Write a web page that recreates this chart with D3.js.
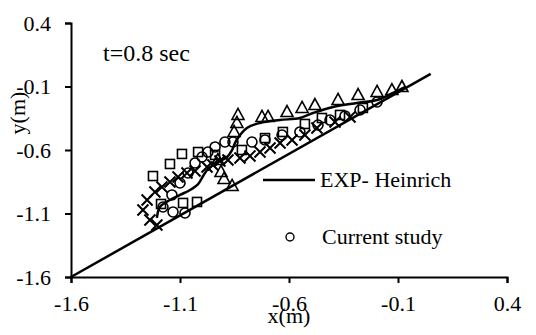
<!DOCTYPE html>
<html>
<head>
<meta charset="utf-8">
<script src="https://cdn.jsdelivr.net/npm/d3@7"></script>
<style>
  body { margin: 0; background: #fff; }
  svg text { font-family: "Liberation Serif", "Times New Roman", serif; fill: #000; }
  .axis text { font-size: 22px; }
  .axis path, .axis line { stroke: #000; stroke-width: 2px; }
</style>
</head>
<body>
<svg id="chart" width="536" height="335"></svg>
<script>
// tick values
let xTicks = [-1.6, -1.1, -0.6, -0.1, 0.4]
let yTicks = [-1.6, -1.1, -0.6, -0.1, 0.4]

// bed line
let bedX = [-1.6, 0.05]
let bedY = [-1.6, 0.0]

// EXP- Heinrich free surface
let expX = [-1.206, -1.192, -1.146, -1.100, -1.054, -1.017, -0.994, -0.972, -0.935, -0.884, -0.861, -0.843, -0.793, -0.733, -0.641, -0.550, -0.490, -0.398, -0.288, -0.196, -0.123, -0.068]
let expY = [-1.135, -1.049, -0.994, -0.954, -0.915, -0.868, -0.805, -0.750, -0.702, -0.655, -0.600, -0.529, -0.427, -0.387, -0.364, -0.348, -0.309, -0.261, -0.230, -0.206, -0.151, -0.104]

// current study (circles)
let circX = [-1.178, -1.132, -1.077, -1.137, -1.100, -1.063, -1.031, -0.999, -0.972, -0.939, -0.894, -0.857, -0.770, -0.710, -0.632, -0.550, -0.467, -0.412, -0.343, -0.274, -0.196]
let circY = [-1.049, -1.088, -1.096, -0.954, -0.860, -0.781, -0.702, -0.655, -0.616, -0.576, -0.537, -0.537, -0.537, -0.521, -0.482, -0.458, -0.403, -0.364, -0.332, -0.285, -0.222]

// other runs (triangles, squares, crosses)
let triX = [-0.834, -0.839, -0.852, -0.724, -0.696, -0.609, -0.540, -0.481, -0.375, -0.283, -0.196, -0.128, -0.082, -0.926, -0.912, -0.898, -0.861]
let triY = [-0.324, -0.387, -0.458, -0.340, -0.340, -0.301, -0.269, -0.246, -0.206, -0.167, -0.143, -0.128, -0.104, -0.679, -0.773, -0.828, -0.883]

let sqX = [-1.224, -1.146, -1.091, -1.017, -0.939, -0.816, -0.710, -0.628, -0.527, -0.449, -0.366, -0.261, -1.086, -1.022, -1.187]
let sqY = [-0.805, -0.710, -0.631, -0.616, -0.639, -0.600, -0.506, -0.458, -0.395, -0.348, -0.324, -0.269, -1.017, -1.009, -1.025]

let crossX = [-1.270, -1.238, -1.206, -1.251, -1.215, -1.183, -1.146, -1.109, -1.068, -1.031, -0.976, -0.949, -0.917, -0.880, -0.825, -0.779, -0.733, -0.687, -0.641, -0.586, -0.527, -0.472, -0.389, -0.320]
let crossY = [-1.072, -1.151, -1.191, -0.994, -0.931, -0.891, -0.852, -0.813, -0.781, -0.765, -0.734, -0.718, -0.687, -0.679, -0.663, -0.647, -0.616, -0.584, -0.545, -0.521, -0.482, -0.427, -0.380, -0.340]

let svg = d3.select("#chart")

let xScale = d3.scaleLinear().domain([-1.6, 0.4]).range([71, 507])
let yScale = d3.scaleLinear().domain([-1.6, 0.4]).range([277, 23])

let fmt = d => d.toFixed(1)

// axes
svg.append("g")
    .attr("class", "axis")
    .attr("transform", "translate(0," + yScale(-1.6) + ")")
    .call(d3.axisBottom(xScale).tickValues(xTicks).tickFormat(fmt).tickSizeOuter(0).tickSize(6).tickPadding(12))

svg.append("g")
    .attr("class", "axis")
    .attr("transform", "translate(" + xScale(-1.6) + ",0)")
    .call(d3.axisLeft(yScale).tickValues(yTicks).tickFormat(fmt).tickSizeOuter(0).tickSize(6).tickPadding(14))

svg.selectAll(".axis text").style("font-family", "'Liberation Serif', serif")

// axis titles
svg.append("text")
    .attr("x", xScale(-0.6))
    .attr("y", 323)
    .attr("text-anchor", "middle")
    .style("font-size", "22px")
    .text("x(m)")

svg.append("text")
    .attr("transform", "translate(25," + 113 + ") rotate(-90)")
    .attr("text-anchor", "middle")
    .style("font-size", "22px")
    .text("y(m)")

svg.append("text")
    .attr("x", 103)
    .attr("y", 61)
    .style("font-size", "24px")
    .text("t=0.8 sec")

let line = d3.line().x(d => xScale(d[0])).y(d => yScale(d[1]))

// bed line
svg.append("path")
    .datum(d3.zip(bedX, bedY))
    .attr("d", line)
    .attr("fill", "none")
    .attr("stroke", "#000")
    .attr("stroke-width", 2.5)

// markers
let marks = svg.append("g").attr("fill", "none").attr("stroke", "#000").attr("stroke-width", 1.6)

marks.selectAll(".tri")
    .data(d3.zip(triX, triY))
    .join("path")
    .attr("class", "tri")
    .attr("transform", d => `translate(${xScale(d[0])},${yScale(d[1])})`)
    .attr("d", "M0,-6.5L6,4.5L-6,4.5Z")

marks.selectAll(".sq")
    .data(d3.zip(sqX, sqY))
    .join("rect")
    .attr("class", "sq")
    .attr("x", d => xScale(d[0]) - 4.5)
    .attr("y", d => yScale(d[1]) - 4.5)
    .attr("width", 9)
    .attr("height", 9)

marks.selectAll(".cross")
    .data(d3.zip(crossX, crossY))
    .join("path")
    .attr("class", "cross")
    .attr("stroke-width", 2)
    .attr("transform", d => `translate(${xScale(d[0])},${yScale(d[1])})`)
    .attr("d", "M-5.5,-5.5L5.5,5.5M5.5,-5.5L-5.5,5.5")

marks.selectAll(".circ")
    .data(d3.zip(circX, circY))
    .join("circle")
    .attr("class", "circ")
    .attr("cx", d => xScale(d[0]))
    .attr("cy", d => yScale(d[1]))
    .attr("r", 5)

// EXP- Heinrich curve
svg.append("path")
    .datum(d3.zip(expX, expY))
    .attr("d", line.curve(d3.curveCatmullRom))
    .attr("fill", "none")
    .attr("stroke", "#000")
    .attr("stroke-width", 2.5)

// legend
let legend = svg.append("g")
legend.append("line").attr("x1", 263).attr("x2", 315).attr("y1", 180).attr("y2", 180)
    .attr("stroke", "#000").attr("stroke-width", 2.5)
legend.append("text").attr("x", 320).attr("y", 187).style("font-size", "22px").text("EXP- Heinrich")
legend.append("circle").attr("cx", 290).attr("cy", 237).attr("r", 4)
    .attr("fill", "none").attr("stroke", "#000").attr("stroke-width", 1.4)
legend.append("text").attr("x", 322).attr("y", 244).style("font-size", "22px").text("Current study")
</script>
</body>
</html>
